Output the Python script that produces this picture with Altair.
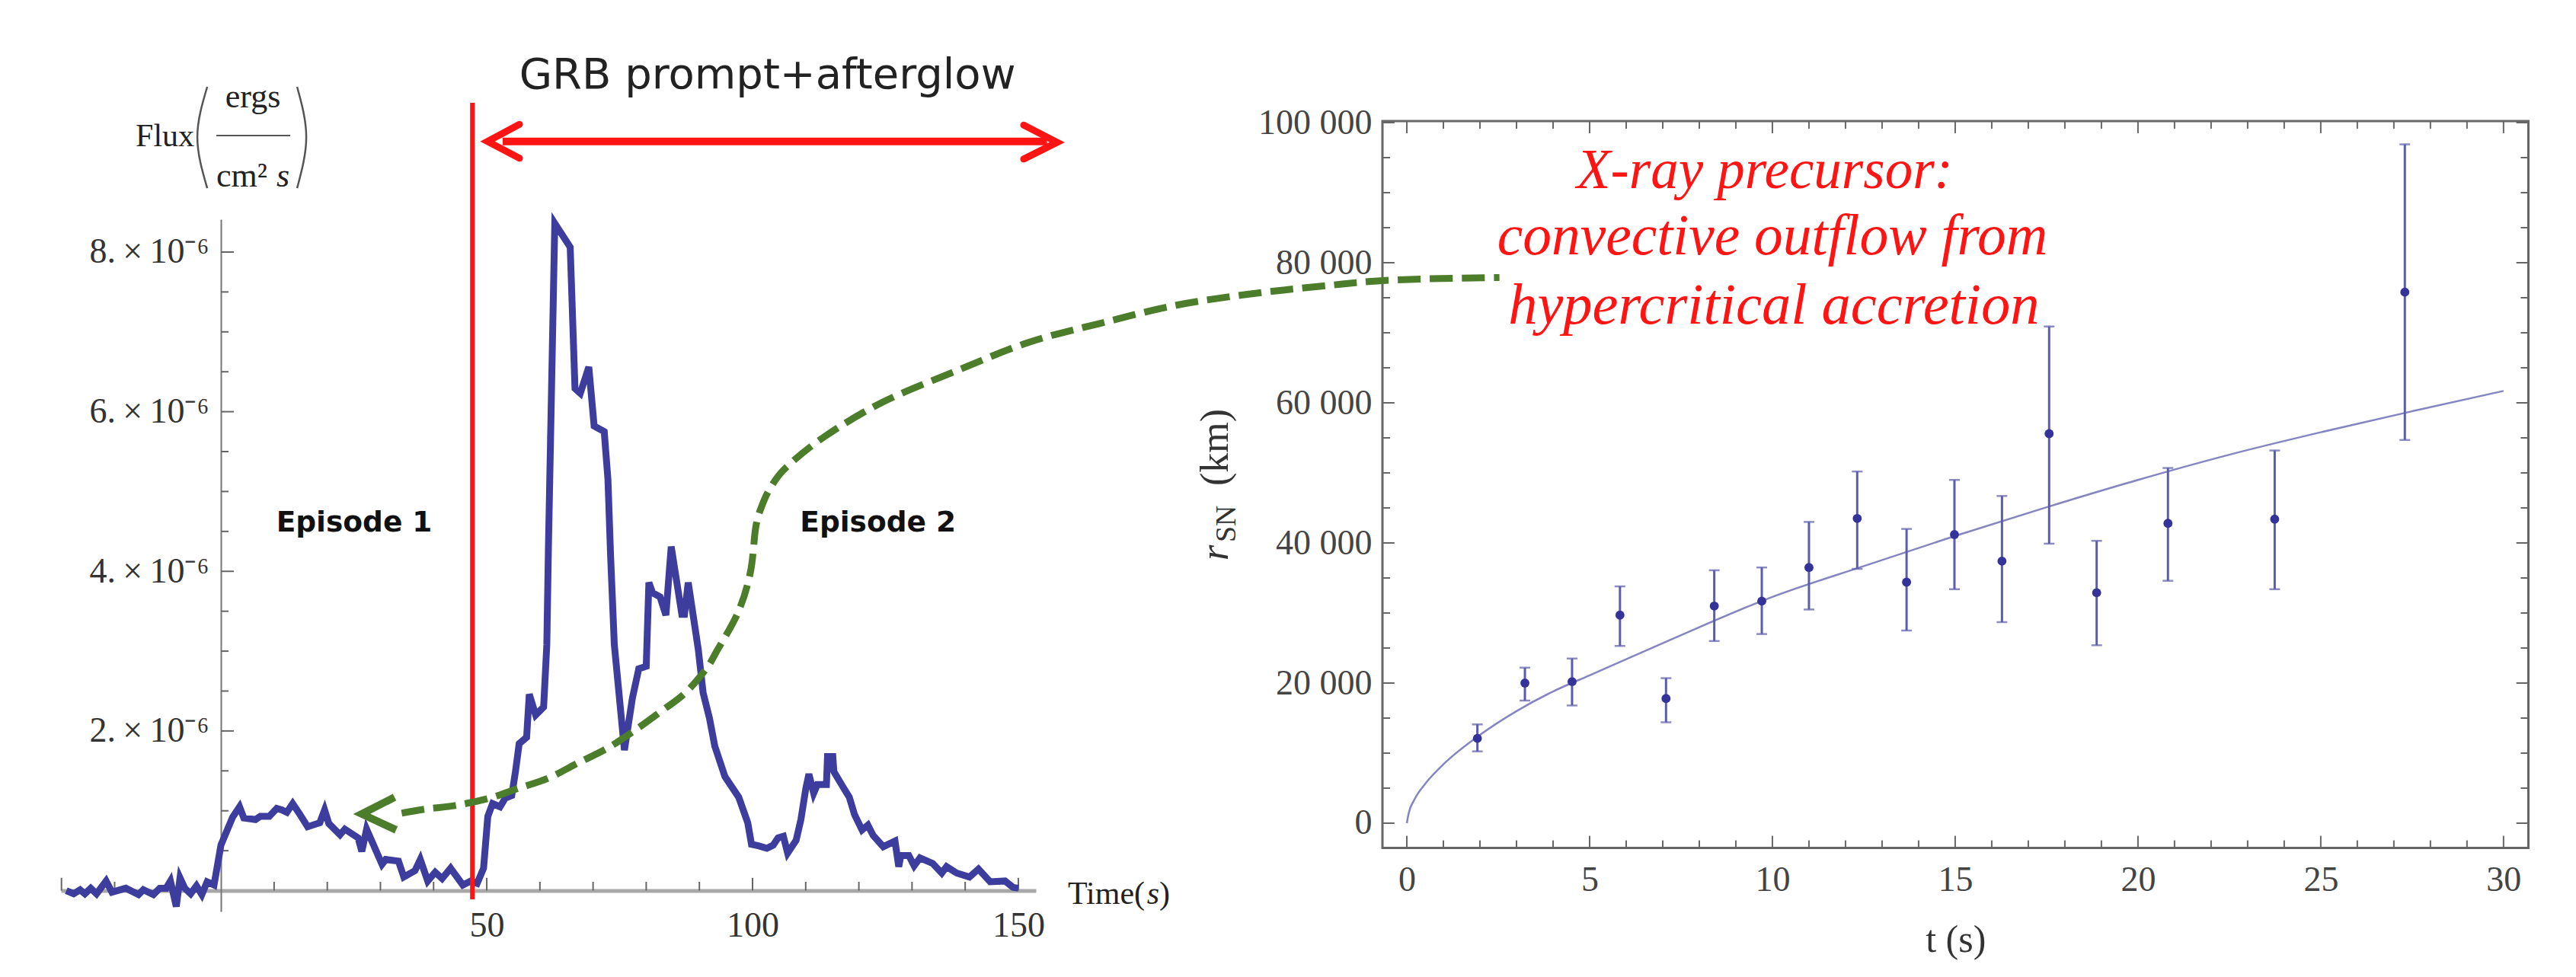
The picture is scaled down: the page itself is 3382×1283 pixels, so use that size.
import altair as alt
import pandas as pd

# light curve, time in s, flux in units of 1e-6 erg/cm2/s
time_s = [-29.1, -27.7, -26.5, -25.6, -24.5, -23.4, -21.6, -20.5, -17.9, -15.5, -14.6, -12.7, -11.5, -10.3,
          -9.5, -8.4, -7.7, -6.8, -5.7, -4.6, -3.6, -2.6, -1.3, 0.0, 1.0, 2.2, 3.5, 4.3, 6.5, 7.4, 9.1, 10.5,
          11.5, 12.4, 13.5, 14.8, 16.3, 18.6, 19.5, 20.3, 22.4, 23.3, 25.8, 26.5, 27.4, 30.3, 31.0, 33.4, 34.4,
          36.5, 37.5, 38.9, 40.3, 41.6, 43.2, 45.5, 47.0, 48.2, 49.4, 50.2, 51.1, 52.5, 53.5, 54.7, 55.4, 56.1,
          57.5, 58.0, 59.2, 60.7, 61.3, 61.6, 62.8, 65.7, 66.6, 67.6, 69.2, 70.2, 72.1, 72.8, 73.3, 74.0, 75.9,
          77.4, 78.6, 80.0, 80.5, 81.2, 82.6, 83.7, 84.7, 86.7, 87.2, 87.9, 89.8, 90.7, 91.9, 92.9, 94.8, 97.4,
          99.1, 99.8, 101.2, 102.7, 103.9, 104.8, 105.8, 106.6, 108.2, 109.1, 110.0, 110.6, 111.5, 112.2, 113.9,
          114.1, 115.1, 115.3, 117.0, 118.2, 119.2, 120.6, 121.7, 122.7, 124.6, 126.8, 127.5, 127.9, 129.4,
          130.4, 131.5, 133.9, 135.6, 136.5, 138.4, 140.8, 142.5, 144.7, 147.5, 149.0, 150.0]
flux = [0.0, -0.04, 0.01, -0.04, 0.03, -0.04, 0.12, -0.02, 0.03, -0.05, 0.01, -0.05, 0.03, 0.03,
        0.12, -0.2, 0.16, 0.03, -0.04, 0.06, -0.05, 0.11, 0.07, 0.57, 0.73, 0.92, 1.05, 0.91, 0.89, 0.93, 0.93, 1.03,
        1.01, 0.98, 1.09, 0.96, 0.8, 0.85, 1.01, 0.84, 0.7, 0.77, 0.66, 0.49, 0.77, 0.33, 0.39, 0.37, 0.17,
        0.25, 0.39, 0.12, 0.23, 0.15, 0.28, 0.07, 0.12, 0.09, 0.28, 0.93, 1.09, 1.05, 1.16, 1.19, 1.49, 1.84,
        1.92, 2.46, 2.2, 2.3, 3.08, 4.29, 8.36, 8.06, 6.29, 6.23, 6.56, 5.82, 5.75, 5.15, 4.19, 3.08, 1.76,
        2.41, 2.78, 2.81, 3.86, 3.73, 3.68, 3.45, 4.31, 3.46, 3.46, 3.86, 3.02, 2.48, 2.16, 1.81, 1.43, 1.17,
        0.85, 0.58, 0.56, 0.53, 0.57, 0.66, 0.68, 0.47, 0.63, 0.89, 1.27, 1.46, 1.22, 1.33, 1.33,
        1.68, 1.68, 1.49, 1.3, 1.17, 0.95, 0.76, 0.82, 0.69, 0.55, 0.62, 0.3, 0.44, 0.44,
        0.31, 0.41, 0.34, 0.22, 0.3, 0.22, 0.17, 0.27, 0.11, 0.12, 0.04, 0.03]

# dashed arrow, given in the left panel's time / flux units
arrow_t = [34.0, 38.3, 44.4, 50.6, 55.9, 61.6, 66.9, 72.6, 77.7, 83.1, 87.4, 91.3, 93.1, 97.3, 99.6, 100.6, 101.7,
           103.4, 106.3, 113.6, 124.5, 138.3, 152.0, 165.6, 179.4, 193.1, 206.7, 220.5, 240.5]
arrow_f = [0.97, 1.02, 1.07, 1.16, 1.28, 1.41, 1.59, 1.78, 2.0, 2.26, 2.48, 2.78, 2.98, 3.49, 3.99, 4.55, 4.81,
           5.05, 5.3, 5.69, 6.12, 6.51, 6.87, 7.11, 7.33, 7.47, 7.57, 7.65, 7.68]

# supernova radius points
t_pts = [1.93, 3.23, 4.52, 5.83, 7.09, 8.41, 9.71, 11.0, 12.32, 13.67, 14.98, 16.28, 17.57, 18.87, 20.82, 23.74, 27.3]
r_pts = [12100, 20000, 20200, 29700, 17800, 31000, 31700, 36500, 43500, 34400, 41200, 37400, 55600, 32900, 42800, 43400, 75800]
r_hi = [14100, 22200, 23500, 33800, 20700, 36100, 36500, 43000, 50200, 42000, 49000, 46700, 70900, 40300, 50700, 53200, 96900]
r_lo = [10250, 17500, 16800, 25300, 14400, 26000, 27000, 30500, 36300, 27500, 33400, 28700, 39900, 25400, 34600, 33400, 54700]

t_fit = [0.0, 0.05, 0.2, 0.5, 1, 2, 3, 4, 5, 7, 10, 12.5, 15, 17.5, 20, 22.5, 25, 27.5, 30]
r_fit = [0, 1400, 3300, 5600, 8400, 12600, 16000, 18800, 21100, 25700, 32300, 36700, 41000, 45100, 49000, 52600, 55800, 58800, 61700]

W, H = 3366, 1267
BLUE = '#3d3d9e'
GREEN = '#4b7d2a'
RED = '#ff1414'
SERIF = 'Liberation Serif'
SANS = 'DejaVu Sans'

lx = alt.Scale(domain=[-30.1, 153.3], range=[72, 1352], nice=False)
ly = alt.Scale(domain=[-0.262, 8.41], range=[1189, 280], nice=False)
rx = alt.Scale(domain=[-0.667, 30.68], range=[1807, 3311.5], nice=False)
ry = alt.Scale(domain=[-3544, 100220], range=[1105.6, 151], nice=False)


def lx_(field):
    return alt.X(field, type='quantitative', scale=lx, axis=None)


def ly_(field):
    return alt.Y(field, type='quantitative', scale=ly, axis=None)


def rx_(field):
    return alt.X(field, type='quantitative', scale=rx, axis=None)


def ry_(field):
    return alt.Y(field, type='quantitative', scale=ry, axis=None)


def label(x, y, text, xs, ys, **mark):
    d = pd.DataFrame({'x': [x], 'y': [y], 'text': [text]})
    return alt.Chart(d).mark_text(**mark).encode(x=xs('x'), y=ys('y'), text='text:N')


def ltext(x, y, text, **mark):
    return label(x, y, text, lx_, ly_, **mark)


def rtext(x, y, text, **mark):
    return label(x, y, text, rx_, ry_, **mark)


def path(xs, ys, **mark):
    d = pd.DataFrame({'x': xs, 'y': ys, 'i': range(len(xs))})
    return alt.Chart(d).mark_line(**mark).encode(x=lx_('x'), y=ly_('y'), order='i:Q')


# left panel: the axes carry domain and labels, ticks point inward so they are rules
curve_df = pd.DataFrame({'t': time_s, 'f': flux})
left_curve = alt.Chart(curve_df).mark_line(color=BLUE, strokeWidth=9, strokeJoin='miter').encode(
    x=alt.X('t:Q', scale=lx, axis=alt.Axis(
        values=[50, 100, 150], title=None, ticks=False, tickSize=0, grid=False, orient='bottom',
        offset=-(H - 1161.5), domainColor='#a8a8a8', domainWidth=5,
        labelFont=SERIF, labelFontSize=46, labelColor='#333333', labelPadding=24)),
    y=alt.Y('f:Q', scale=ly, axis=alt.Axis(
        values=[2, 4, 6, 8], title=None, ticks=False, tickSize=0, grid=False, orient='left',
        offset=-282, domainColor='#777777', domainWidth=2,
        labelFont=SERIF, labelFontSize=46, labelColor='#333333', labelPadding=16,
        labelExpr="datum.value + '.\u2009×\u200910⁻⁶'")),
)

ly_major = [2, 4, 6, 8]
ly_minor = [0.5, 1, 1.5, 2.5, 3, 3.5, 4.5, 5, 5.5, 6.5, 7, 7.5]
lx_major = [-30, 50, 100, 150]
lx_minor = [-20, -10, 10, 20, 30, 40, 60, 70, 80, 90, 110, 120, 130, 140]


def left_yticks(vals, length):
    d = pd.DataFrame({'y': vals, 'x': 0.0, 'x2': length})
    return alt.Chart(d).mark_rule(color='#666666', strokeWidth=2).encode(x=lx_('x'), x2='x2:Q', y=ly_('y'))


def left_xticks(vals, length):
    d = pd.DataFrame({'x': vals, 'y': 0.0, 'y2': length})
    return alt.Chart(d).mark_rule(color='#666666', strokeWidth=2).encode(x=lx_('x'), y=ly_('y'), y2='y2:Q')


divider = alt.Chart(pd.DataFrame({'x': [47.3], 'y': [-0.11], 'y2': [9.87]})).mark_rule(
    color=RED, strokeWidth=6).encode(x=lx_('x'), y=ly_('y'), y2='y2:Q')

frac_bar = alt.Chart(pd.DataFrame({'x': [-0.86], 'x2': [13.04], 'y': [9.46]})).mark_rule(
    color='#555555', strokeWidth=2).encode(x=lx_('x'), x2='x2:Q', y=ly_('y'))

left_layers = [
    left_yticks(ly_major, 2.44),
    left_yticks(ly_minor, 1.43),
    left_xticks(lx_major, 0.16),
    left_xticks(lx_minor, 0.11),
    left_curve,
    divider,
    # red double arrow
    path([53.0, 155.4], [9.385, 9.385], color=RED, strokeWidth=10),
    path([56.16, 50.14, 56.16], [9.6, 9.385, 9.175], color=RED, strokeWidth=9, strokeCap='round'),
    path([151.0, 157.3, 151.0], [9.59, 9.375, 9.165], color=RED, strokeWidth=9, strokeCap='round'),
    # green arrow
    path(arrow_t, arrow_f, color=GREEN, strokeWidth=9, strokeDash=[30, 12], interpolate='cardinal'),
    path([32.66, 26.5, 32.95], [1.17, 0.96, 0.76], color=GREEN, strokeWidth=10),
    # flux label
    ltext(-16.05, 9.33, 'Flux', font=SERIF, fontSize=42, align='left', baseline='alphabetic', color='#222222'),
    ltext(6.02, 9.81, 'ergs', font=SERIF, fontSize=44, align='center', baseline='alphabetic', color='#222222'),
    frac_bar,
    ltext(-0.86, 8.82, 'cm²', font=SERIF, fontSize=44, align='left', baseline='alphabetic', color='#222222'),
    ltext(10.46, 8.82, 's', font=SERIF, fontSize=44, fontStyle='italic', align='left', baseline='alphabetic', color='#222222'),
    path([-2.58, -4.44, -2.58], [10.07, 9.44, 8.8], color='#555555', strokeWidth=2.5, interpolate='natural'),
    path([14.33, 16.05, 14.33], [10.07, 9.44, 8.8], color='#555555', strokeWidth=2.5, interpolate='natural'),
    # time label
    ltext(159.3, -0.17, 'Time(', font=SERIF, fontSize=42, align='left', baseline='alphabetic', color='#222222'),
    ltext(174.2, -0.17, 's', font=SERIF, fontSize=42, fontStyle='italic', align='left', baseline='alphabetic', color='#222222'),
    ltext(176.5, -0.17, ')', font=SERIF, fontSize=42, align='left', baseline='alphabetic', color='#222222'),
    # texts
    ltext(102.8, 10.05, 'GRB prompt+afterglow', font=SANS, fontSize=56, align='center', baseline='alphabetic', color='#222222'),
    ltext(25.07, 4.6, 'Episode 1', font=SANS, fontSize=37.5, fontWeight='bold', align='center', baseline='middle', color='#111111'),
    ltext(123.6, 4.6, 'Episode 2', font=SANS, fontSize=37.5, fontWeight='bold', align='center', baseline='middle', color='#111111'),
]

# right panel
pts_df = pd.DataFrame({'t': t_pts, 'r': r_pts, 'hi': r_hi, 'lo': r_lo})
fit_df = pd.DataFrame({'t': t_fit, 'r': r_fit})

frame = alt.Chart(pd.DataFrame({'x': [-0.667], 'x2': [30.68], 'y': [-3544], 'y2': [100220]})).mark_rect(
    fill='transparent', stroke='#666666', strokeWidth=3).encode(x=rx_('x'), x2='x2:Q', y=ry_('y'), y2='y2:Q')

fit = alt.Chart(fit_df).mark_line(color='#8585c2', strokeWidth=2.5, interpolate='monotone').encode(
    x=alt.X('t:Q', scale=rx, axis=alt.Axis(
        values=[0, 5, 10, 15, 20, 25, 30], ticks=False, tickSize=0, grid=False, orient='bottom', domain=False,
        offset=-(H - 1105.6), labelFont=SERIF, labelFontSize=46, labelColor='#444444', labelPadding=20,
        title='t (s)', titleFont=SERIF, titleFontSize=50, titleFontWeight='normal', titleColor='#333333', titlePadding=31)),
    y=alt.Y('r:Q', scale=ry, axis=alt.Axis(
        values=[0, 20000, 40000, 60000, 80000, 100000], ticks=False, tickSize=0, grid=False, orient='left', domain=False,
        offset=-1807, title=None, labelFont=SERIF, labelFontSize=46, labelColor='#444444', labelPadding=14,
        labelExpr="replace(format(datum.value, ','), ',', ' ')")),
)

bars = alt.Chart(pts_df).mark_rule(color='#5c5cae', strokeWidth=3).encode(x=rx_('t'), y=ry_('lo'), y2='hi:Q')
caps_hi = alt.Chart(pts_df).mark_tick(color='#5c5cae', orient='horizontal', size=14, thickness=2.5).encode(x=rx_('t'), y=ry_('hi'))
caps_lo = alt.Chart(pts_df).mark_tick(color='#5c5cae', orient='horizontal', size=14, thickness=2.5).encode(x=rx_('t'), y=ry_('lo'))
dots = alt.Chart(pts_df).mark_circle(color='#33339a', opacity=1, size=140).encode(x=rx_('t'), y=ry_('r'))

rx_major = [0, 5, 10, 15, 20, 25, 30]
rx_minor = [i for i in range(31) if i % 5]
ry_major = [0, 20000, 40000, 60000, 80000, 100000]
ry_minor = [i for i in range(5000, 100000, 5000) if i % 20000]


def right_ticks(xvals, yvals, xlen, ylen):
    # inward ticks on all four sides of the frame
    out = []
    a = pd.DataFrame({'x': xvals, 'y': -3544, 'y2': -3544 + ylen})
    b = pd.DataFrame({'x': xvals, 'y': 100220, 'y2': 100220 - ylen})
    c = pd.DataFrame({'y': yvals, 'x': -0.667, 'x2': -0.667 + xlen})
    d = pd.DataFrame({'y': yvals, 'x': 30.68, 'x2': 30.68 - xlen})
    for df in (a, b):
        out.append(alt.Chart(df).mark_rule(color='#666666', strokeWidth=2).encode(x=rx_('x'), y=ry_('y'), y2='y2:Q'))
    for df in (c, d):
        out.append(alt.Chart(df).mark_rule(color='#666666', strokeWidth=2).encode(x=rx_('x'), x2='x2:Q', y=ry_('y')))
    return out


red_kw = dict(font=SERIF, fontStyle='italic', align='center', baseline='alphabetic', color=RED)
lab_kw = dict(font=SERIF, angle=270, align='left', baseline='alphabetic', color='#333333')

right_layers = [
    frame,
    *right_ticks(rx_major, ry_major, 0.33, 1740),
    *right_ticks(rx_minor, ry_minor, 0.21, 1090),
    fit,
    bars,
    caps_hi,
    caps_lo,
    dots,
    rtext(9.79, 90660, 'X-ray precursor:', fontSize=73, **red_kw),
    rtext(10.0, 81200, 'convective outflow from', fontSize=75.5, **red_kw),
    rtext(10.04, 71300, 'hypercritical accretion', fontSize=76.5, **red_kw),
    rtext(-4.9, 37500, 'r', fontSize=52, fontStyle='italic', **lab_kw),
    rtext(-4.69, 40100, 'SN', fontSize=38, **lab_kw),
    rtext(-4.9, 48150, '(km)', fontSize=52, **lab_kw),
]

# every layer repeats its panel's explicit scale, so they can all be independent
chart = alt.layer(*right_layers, *left_layers).resolve_scale(x='independent', y='independent').properties(
    width=W, height=H, padding=0, autosize=alt.AutoSizeParams(type='none')
).configure_view(stroke=None)

chart.save("out.html", embed_options={"renderer": "svg", "actions": False})
